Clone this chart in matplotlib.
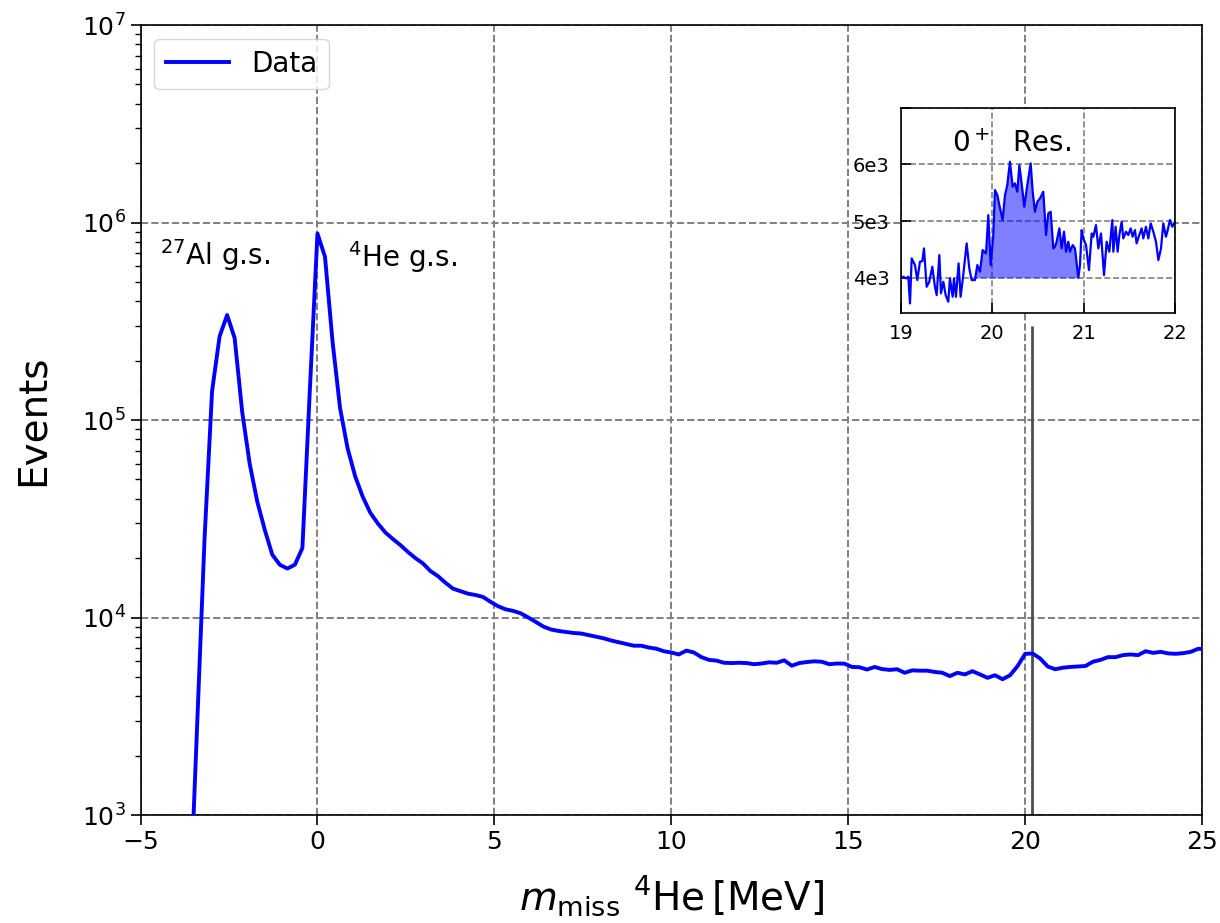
import numpy as np
import matplotlib
matplotlib.use("Agg")
import matplotlib.pyplot as plt

# Missing-mass spectrum, events per bin (bins of 30/141 MeV starting at -5 MeV)
events = [
    15, 20, 30, 50, 90, 160, 300, 2.75e3, 2.5e4, 1.4e5,
    2.65e5, 3.4e5, 2.6e5, 1.1e5, 6.0e4, 3.87e4, 2.78e4, 2.08e4, 1.85e4, 1.77e4,
    1.85e4, 2.25e4, 1.45e5, 8.8e5, 6.7e5, 2.5e5, 1.15e5, 7.2e4, 5.2e4, 4.1e4,
    3.4e4, 3.0e4, 2.7e4, 2.5e4, 2.33e4, 2.15e4, 2.0e4, 1.88e4, 1.72e4, 1.62e4,
    1.5e4, 1.4e4, 1.36e4, 1.32e4, 1.3e4, 1.27e4, 1.2e4, 1.14e4, 1.1e4, 1.08e4,
    1.05e4, 1.0e4, 9.5e3, 9.0e3, 8.7e3, 8.55e3, 8.45e3, 8.35e3, 8.3e3, 8.15e3,
    8.0e3, 7.85e3, 7.65e3, 7.5e3, 7.35e3, 7.2e3, 7.2e3, 7.05e3, 6.95e3, 6.75e3,
    6.65e3, 6.5e3, 6.8e3, 6.65e3, 6.3e3, 6.1e3, 6.05e3, 5.9e3, 5.88e3, 5.9e3,
    5.88e3, 5.8e3, 5.85e3, 5.93e3, 5.9e3, 6.07e3, 5.7e3, 5.88e3, 5.95e3, 6.0e3,
    5.97e3, 5.8e3, 5.85e3, 5.84e3, 5.62e3, 5.6e3, 5.45e3, 5.62e3, 5.48e3, 5.43e3,
    5.47e3, 5.25e3, 5.4e3, 5.38e3, 5.38e3, 5.3e3, 5.25e3, 5.05e3, 5.25e3, 5.15e3,
    5.35e3, 5.15e3, 4.95e3, 5.1e3, 4.87e3, 5.1e3, 5.68e3, 6.55e3, 6.57e3, 6.2e3,
    5.65e3, 5.47e3, 5.57e3, 5.62e3, 5.65e3, 5.68e3, 5.97e3, 6.1e3, 6.3e3, 6.3e3,
    6.45e3, 6.5e3, 6.45e3, 6.75e3, 6.62e3, 6.7e3, 6.58e3, 6.55e3, 6.6e3, 6.7e3,
    6.95e3, 6.9e3,
]
bin_width = 30.0 / 141
missing_mass = -5 + (np.arange(len(events)) + 0.5) * bin_width

# Fine-binned zoom around the 0+ resonance
zoom_mass = [
    19.000, 19.026, 19.055, 19.080, 19.099, 19.117, 19.153, 19.179, 19.208, 19.234,
    19.252, 19.281, 19.310, 19.343, 19.372, 19.391, 19.420, 19.438, 19.464, 19.489,
    19.518, 19.536, 19.566, 19.580, 19.602, 19.631, 19.653, 19.682, 19.719, 19.748,
    19.774, 19.810, 19.836, 19.865, 19.894, 19.931, 19.956, 19.982, 20.011, 20.029,
    20.055, 20.077, 20.113, 20.139, 20.164, 20.193, 20.223, 20.248, 20.274, 20.296,
    20.321, 20.350, 20.383, 20.420, 20.442, 20.467, 20.493, 20.522, 20.558, 20.588,
    20.613, 20.639, 20.668, 20.686, 20.704, 20.734, 20.759, 20.785, 20.807, 20.832,
    20.850, 20.880, 20.905, 20.942, 20.960, 20.978, 20.996, 21.026, 21.058, 21.088,
    21.106, 21.135, 21.161, 21.190, 21.223, 21.252, 21.281, 21.314, 21.325, 21.350,
    21.372, 21.391, 21.416, 21.434, 21.464, 21.489, 21.515, 21.536, 21.562, 21.580,
    21.609, 21.635, 21.653, 21.682, 21.708, 21.734, 21.763, 21.792, 21.818, 21.847,
    21.872, 21.901, 21.916, 21.945, 21.971, 21.989, 22.000,
]
zoom_events = [
    4000, 4018, 3988, 4018, 3547, 4341, 4224, 3959, 4282, 4294,
    4518, 3841, 3929, 4194, 3841, 3694, 4400, 3724, 3929, 3694,
    3576, 3988, 3665, 3988, 3665, 4253, 3665, 4047, 4606, 4165,
    3959, 3959, 4224, 4106, 4488, 4429, 5106, 4224, 4753, 5547,
    5459, 5282, 5018, 5459, 5635, 6047, 5606, 5665, 5518, 5988,
    5665, 5253, 5635, 6018, 5518, 5165, 5341, 5400, 5518, 4753,
    5135, 5165, 4518, 4547, 4635, 4871, 4518, 4812, 4459, 4635,
    4459, 4576, 4518, 4000, 4224, 4841, 4694, 4576, 4135, 4782,
    4724, 4929, 4518, 4782, 4047, 4635, 4459, 5018, 4459, 4900,
    4459, 4753, 4988, 4694, 4812, 4753, 4871, 4724, 4841, 4606,
    4753, 4871, 4694, 4900, 4694, 4959, 4812, 4635, 4312, 4518,
    4959, 4724, 4812, 5018, 4900, 4959, 4988,
]
signal_window = (19.80, 20.95)
baseline = 4000
resonance_mass = 20.2

x_ticks = [-5, 0, 5, 10, 15, 20, 25]
inset_x_ticks = [19, 20, 21, 22]
inset_y_ticks = [4000, 5000, 6000, 7000]
inset_y_labels = ["4e3", "5e3", "6e3", ""]

fig = plt.figure(figsize=(12.2, 9.23), dpi=100)
ax = fig.add_axes([0.1152, 0.1170, 0.8701, 0.8559])

ax.plot(missing_mass, events, color="blue", lw=2.8, label="Data", zorder=3)
ax.vlines(resonance_mass, 1e3, 3e5, color="0.3", lw=2.0, zorder=2)

ax.set_yscale("log")
ax.set_xlim(-5, 25)
ax.set_ylim(1e3, 1e7)
ax.set_xticks(x_ticks)
ax.grid(True, which="major", ls="--", color="gray", lw=1.4)
ax.set_axisbelow(True)
ax.tick_params(which="major", labelsize=18, length=7, width=1.2)
ax.tick_params(which="minor", length=4, width=1.0)
for s in ax.spines.values():
    s.set_linewidth(1.2)

ax.set_xlabel(r"$m_{\mathrm{miss}}\ {}^{4}\mathrm{He}\,[\mathrm{MeV}]$", fontsize=28, labelpad=14)
ax.set_ylabel("Events", fontsize=28, labelpad=22)

ax.text(-4.44, 6.1e5, r"$^{27}$Al g.s.", fontsize=20, va="baseline", ha="left")
ax.text(0.87, 5.93e5, r"$^{4}$He g.s.", fontsize=20, va="baseline", ha="left")

ax.legend(loc="upper left", fontsize=20, handlelength=2.3)

# Inset around the resonance
axin = fig.add_axes([0.7385, 0.6607, 0.2246, 0.2226])
zx = np.array(zoom_mass)
zy = np.array(zoom_events)
mask = (zx >= signal_window[0]) & (zx <= signal_window[1])
axin.fill_between(zx, baseline, zy, where=mask, color="blue", alpha=0.5, lw=0)
axin.plot(zx, zy, color="blue", lw=1.6)
axin.set_xlim(19, 22)
axin.set_ylim(3375, 7000)
axin.set_xticks(inset_x_ticks)
axin.set_yticks(inset_y_ticks)
axin.set_yticklabels(inset_y_labels)
axin.grid(True, ls="--", color="gray", lw=1.2)
axin.set_axisbelow(True)
axin.tick_params(direction="in", length=7, width=1.2, labelsize=14, pad=8)
for s in axin.spines.values():
    s.set_linewidth(1.2)
axin.text(0.185, 0.786, r"$0^+$  Res.", fontsize=20, transform=axin.transAxes,
          va="baseline", ha="left")

fig.savefig("out.png", dpi=100)
